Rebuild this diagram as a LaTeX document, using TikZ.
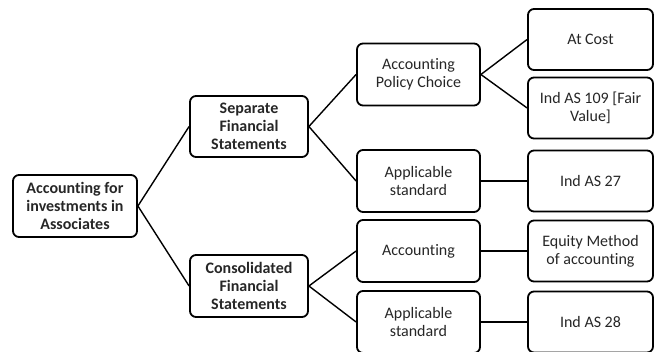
\documentclass[tikz,border=0pt]{standalone}
\usepackage{fontspec}
\setmainfont{Carlito}[Ligatures=NoCommon,Contextuals=NoAlternate]
\begin{document}
\begin{tikzpicture}[x=1pt,y=1pt,
  box/.style={draw=black,line width=1.8pt,rounded corners=6pt,align=center,inner sep=0pt,
    text=black!85,font=\fontsize{16}{18}\selectfont},
  bbox/.style={box,font=\fontsize{16}{18}\selectfont\bfseries},
  mid/.style={box,minimum width=123pt,minimum height=62pt},
  leaf/.style={box,minimum width=125pt,minimum height=61pt},
  conn/.style={line width=1.4pt,black}]
\useasboundingbox (0,0) rectangle (656,351);
\node[bbox,minimum width=124pt,minimum height=62pt] (root) at (75,145) {Accounting for\\investments in\\Associates};
\node[bbox,minimum width=118pt,minimum height=61pt] (sep) at (249,224.5) {Separate\\Financial\\Statements};
\node[bbox,minimum width=118pt,minimum height=62pt] (con) at (249,65) {Consolidated\\Financial\\Statements};
\node[mid] (apc) at (418.5,276.5) {Accounting\\Policy Choice};
\node[mid] (as1) at (418.5,170) {Applicable\\standard};
\node[mid] (acc) at (418.5,100) {Accounting};
\node[mid] (as2) at (418.5,29) {Applicable\\standard};
\node[leaf] (cost) at (590.5,311.5) {At Cost};
\node[leaf] (fv) at (590.5,243) {Ind AS 109 [Fair\\Value]};
\node[leaf] (ias27) at (590.5,170) {Ind AS 27};
\node[leaf] (eq) at (590.5,100) {Equity Method\\of accounting};
\node[leaf] (ias28) at (590.5,29) {Ind AS 28};
\draw[conn] (root.east) -- (sep.west);
\draw[conn] (root.east) -- (con.west);
\draw[conn] (sep.east) -- (apc.west);
\draw[conn] (sep.east) -- (as1.west);
\draw[conn] (con.east) -- (acc.west);
\draw[conn] (con.east) -- (as2.west);
\draw[conn] (apc.east) -- (cost.west);
\draw[conn] (apc.east) -- (fv.west);
\draw[conn] (as1.east) -- (ias27.west);
\draw[conn] (acc.east) -- (eq.west);
\draw[conn] (as2.east) -- (ias28.west);
\end{tikzpicture}
\end{document}
